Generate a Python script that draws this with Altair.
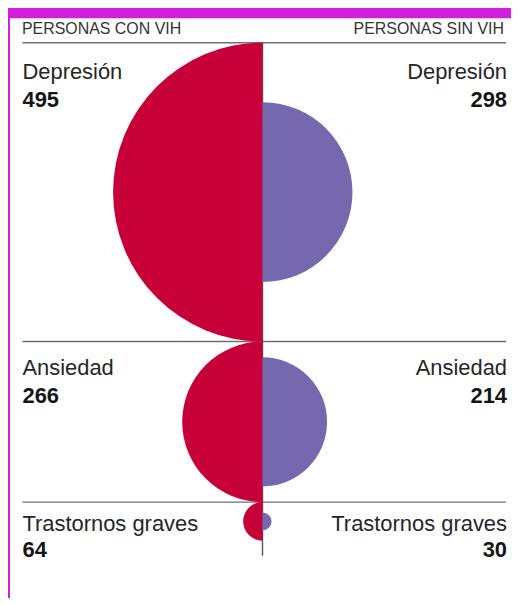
import math
import altair as alt
import pandas as pd

# ---- data ----
categories = ["Depresión", "Ansiedad", "Trastornos graves"]
con_vih = [495, 266, 64]
sin_vih = [298, 214, 30]
header_left = "PERSONAS CON VIH"
header_right = "PERSONAS SIN VIH"

# ---- layout / style ----
W, H = 505, 590
R_MAX_PX = 150.0
K = R_MAX_PX / max(con_vih)          # pixels per data unit
X_CENTER = 255.5
TOP = 33.7
X_LEFT = 14.5
X_RIGHT = 500
LABEL_DY = [36.6, 34.0, 28.5]
NUMBER_DY = [65.0, 62.0, 55.0]
LINE_EXTRA_PX = 15

RED = "#c8003a"
PURPLE = "#7668af"
MAGENTA = "#d21ddc"
FONT = "Liberation Sans"

# row layout expressed in data units (rows stacked by their largest radius)
tops, centers = [], []
acc = 0
for c, s in zip(con_vih, sin_vih):
    tops.append(acc)
    centers.append(acc + max(c, s))
    acc += 2 * max(c, s)

df = pd.DataFrame({
    "cat": categories,
    "con": con_vih,
    "sin": sin_vih,
    "top": tops,
    "center": centers,
    "cx": [0] * len(categories),
    "row": list(range(len(categories))),
})
vline_df = pd.DataFrame({"cx": [0], "y0": [0], "y1": [acc + LINE_EXTRA_PX / K]})
one = pd.DataFrame({"a": [0]})

xscale = alt.Scale(domain=[-X_CENTER / K, (W - X_CENTER) / K], nice=False, zero=False)
yscale = alt.Scale(domain=[-TOP / K, (H - TOP) / K], nice=False, zero=False, reverse=True)
rscale = alt.Scale(type="linear", domain=[0, max(con_vih)], range=[0, R_MAX_PX], zero=True, nice=False)

panel = alt.Chart(one).mark_rect(color="white").encode(
    x=alt.value(2), x2=alt.value(W + 20), y=alt.value(9), y2=alt.value(H + 20)
)

hdr_l = alt.Chart(one).mark_text(
    text=header_left, align="left", baseline="alphabetic", font=FONT, fontSize=16, color="#333333"
).encode(x=alt.value(X_LEFT - 0.5), y=alt.value(24.5))
hdr_r = alt.Chart(one).mark_text(
    text=header_right, align="right", baseline="alphabetic", font=FONT, fontSize=16, color="#333333"
).encode(x=alt.value(X_RIGHT - 2), y=alt.value(24.5))

rules = alt.Chart(df).mark_rule(color="#707070", strokeWidth=1.4).encode(
    y=alt.Y("top:Q", scale=yscale, axis=None),
    x=alt.value(X_LEFT),
    x2=alt.value(X_RIGHT),
)

vline = alt.Chart(vline_df).mark_rule(color="#555555", strokeWidth=1.4).encode(
    x=alt.X("cx:Q", scale=xscale, axis=None),
    y=alt.Y("y0:Q", scale=yscale, axis=None),
    y2="y1:Q",
)

left_arcs = alt.Chart(df).mark_arc(theta=math.pi, theta2=2 * math.pi, color=RED).encode(
    x=alt.X("cx:Q", scale=xscale, axis=None),
    y=alt.Y("center:Q", scale=yscale, axis=None),
    radius=alt.Radius("con:Q", scale=rscale, stack=None),
)
right_arcs = alt.Chart(df).mark_arc(theta=0, theta2=math.pi, color=PURPLE).encode(
    x=alt.X("cx:Q", scale=xscale, axis=None),
    y=alt.Y("center:Q", scale=yscale, axis=None),
    radius=alt.Radius("sin:Q", scale=rscale, stack=None),
)

text_layers = []
for i in range(len(categories)):
    b = alt.Chart(df).transform_filter(alt.datum.row == i)
    yenc = alt.Y("top:Q", scale=yscale, axis=None)
    text_layers.append(b.mark_text(align="left", baseline="alphabetic", dy=LABEL_DY[i],
                                   font=FONT, fontSize=22, color="#262626")
                       .encode(x=alt.value(X_LEFT), y=yenc, text="cat:N"))
    text_layers.append(b.mark_text(align="left", baseline="alphabetic", dy=NUMBER_DY[i],
                                   font=FONT, fontSize=22, fontWeight="bold", color="#151515")
                       .encode(x=alt.value(X_LEFT), y=yenc, text="con:Q"))
    text_layers.append(b.mark_text(align="right", baseline="alphabetic", dy=LABEL_DY[i],
                                   font=FONT, fontSize=22, color="#262626")
                       .encode(x=alt.value(X_RIGHT + 1), y=yenc, text="cat:N"))
    text_layers.append(b.mark_text(align="right", baseline="alphabetic", dy=NUMBER_DY[i],
                                   font=FONT, fontSize=22, fontWeight="bold", color="#151515")
                       .encode(x=alt.value(X_RIGHT + 1), y=yenc, text="sin:Q"))

chart = alt.layer(panel, rules, vline, left_arcs, right_arcs, hdr_l, hdr_r, *text_layers).properties(
    width=W, height=H, padding=0, autosize=alt.AutoSizeParams(type="none"),
    background=MAGENTA,
).configure_view(stroke=None)

chart.save("out.html", embed_options={"renderer": "svg", "actions": False})
